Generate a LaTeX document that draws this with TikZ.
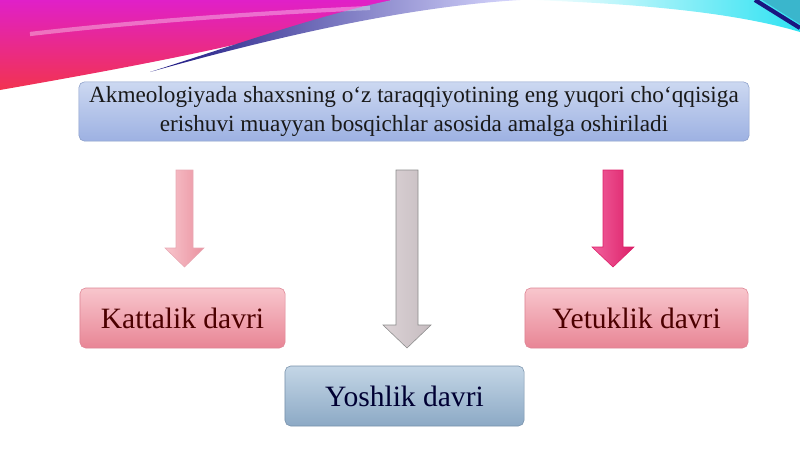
\documentclass[tikz,border=0pt]{standalone}
\usepackage{fontspec}
\setmainfont{Liberation Serif}
\usetikzlibrary{positioning}

\definecolor{titletop}{HTML}{CCD8F1}
\definecolor{titlebot}{HTML}{9DB1E2}
\definecolor{titleline}{HTML}{8C9FC9}
\definecolor{pinktop}{HTML}{F8C6CD}
\definecolor{pinkbot}{HTML}{E88595}
\definecolor{pinkline}{HTML}{DE8494}
\definecolor{bluetop}{HTML}{C4D6E6}
\definecolor{bluebot}{HTML}{8CA9C5}
\definecolor{blueline}{HTML}{7891AA}
\definecolor{greytop}{HTML}{DCD3D6}
\definecolor{greybot}{HTML}{C6BCC0}
\definecolor{hotpink}{HTML}{EE3A85}
\definecolor{hotpinkdark}{HTML}{DC1F68}
\definecolor{swoosha}{HTML}{F23350}
\definecolor{swooshb}{HTML}{E020C8}
\definecolor{navy}{HTML}{1A1580}
\definecolor{skycyan}{HTML}{2FE2F2}
\definecolor{teal}{HTML}{3AB6CC}

\tikzset{
    titlebox/.style={rounded corners=4pt, draw=titleline, top color=titletop, bottom color=titlebot,
        minimum width=16.75cm, minimum height=1.475cm, align=center, text=black!90,
        font=\fontsize{16.5}{20.5}\selectfont},
    periodbox/.style={rounded corners=4pt, minimum height=1.5cm, font=\fontsize{21}{24}\selectfont},
    pinkbox/.style={periodbox, draw=pinkline, top color=pinktop, bottom color=pinkbot, text=red!30!black},
    bluebox/.style={periodbox, draw=blueline, top color=bluetop, bottom color=bluebot, text=blue!20!black},
}

\begin{document}
\begin{tikzpicture}[x=0.025cm,y=-0.025cm]
        \useasboundingbox (0,0) rectangle (800,449);

        % Background swooshes
        \shade[top color=swooshb, bottom color=swoosha]
            (0,0) -- (392,0) .. controls (300,35) and (160,62) .. (0,90) -- cycle;
        \shade[left color=navy, right color=blue!15]
            (150,72) .. controls (250,40) and (320,15) .. (392,0) -- (520,0)
            .. controls (420,6) and (300,30) .. (150,72) -- cycle;
        \draw[white, opacity=0.35, line width=3pt] (30,34) .. controls (150,20) and (280,12) .. (370,8);
        \shade[left color=white, right color=skycyan]
            (530,0) .. controls (650,4) and (740,14) .. (800,32) -- (800,0) -- cycle;
        \fill[teal] (762,0) -- (800,0) -- (800,24) -- cycle;
        \draw[navy, line width=3pt] (755,0) -- (800,28);

        % Title
        \node[titlebox] (title) at (414,111.5)
            {Akmeologiyada shaxsning o‘z taraqqiyotining eng yuqori cho‘qqisiga\\
             erishuvi muayyan bosqichlar asosida amalga oshiriladi};

        % Block arrows
        \shade[draw=pinkline!70, left color=pinktop, right color=pinkbot!90]
            (176,170) -- (193,170) -- (193,248) -- (204,248) -- (184.5,267)
            -- (165,248) -- (176,248) -- cycle;
        \shade[draw=black!45, left color=greytop, right color=greybot]
            (396,170) -- (418,170) -- (418,325) -- (431,325) -- (407,348)
            -- (383,325) -- (396,325) -- cycle;
        \shade[draw=hotpinkdark, left color=hotpink!80, right color=hotpinkdark]
            (603,170) -- (623,170) -- (623,247) -- (634,247) -- (613,267)
            -- (592,247) -- (603,247) -- cycle;

        % Periods
        \node[pinkbox, minimum width=5.125cm] (kattalik) at (182.5,318) {Kattalik davri};
        \node[pinkbox, minimum width=5.575cm] (yetuklik) at (636.5,318) {Yetuklik davri};
        \node[bluebox, minimum width=5.975cm] (yoshlik) at (404.5,396) {Yoshlik davri};

    \end{tikzpicture}
\end{document}
